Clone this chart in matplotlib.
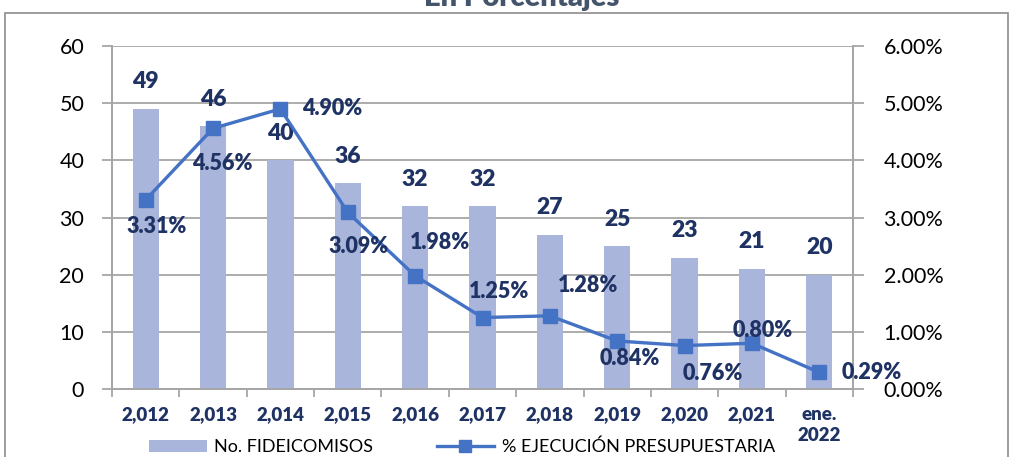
import matplotlib
matplotlib.use("Agg")
import matplotlib.pyplot as plt
from matplotlib.patches import Patch, Rectangle
from matplotlib.lines import Line2D
from matplotlib.ticker import FuncFormatter, FixedLocator

plt.rcParams['font.family'] = ['Lato', 'DejaVu Sans']

categories = ["2,012", "2,013", "2,014", "2,015", "2,016", "2,017", "2,018",
              "2,019", "2,020", "2,021", "ene.\n2022"]
fideicomisos = [49, 46, 40, 36, 32, 32, 27, 25, 23, 21, 20]
ejecucion = [3.31, 4.56, 4.90, 3.09, 1.98, 1.25, 1.28, 0.84, 0.76, 0.80, 0.29]
pct_labels = ["3.31%", "4.56%", "4.90%", "3.09%", "1.98%", "1.25%", "1.28%",
              "0.84%", "0.76%", "0.80%", "0.29%"]
# label offsets in pixels (dx, dy)
pct_offsets = [(11, -27), (9, -35), (52, 0), (11, -34), (25, 33), (17, 26),
               (38, 30), (13, -18), (28, -28), (11, 13), (52, 0)]

BAR = "#A9B5DA"
LINE = "#4472C4"
NAVY = "#1F3264"
GRID = "#A6A6A6"

fig = plt.figure(figsize=(10.11, 4.57), dpi=100)
W, H = 1011, 457
ax = fig.add_axes([112 / W, 1 - 389 / H, (853 - 112) / W, (389 - 46) / H])
ax2 = ax.twinx()

x = list(range(len(categories)))
ax.bar(x, fideicomisos, width=0.39, color=BAR, zorder=2)
ax.set_xlim(-0.5, len(categories) - 0.5)
ax.set_ylim(0, 60)
ax.set_yticks(range(0, 61, 10))
ax.yaxis.grid(True, color=GRID, linewidth=1.3, zorder=0)
ax.set_axisbelow(True)
ax.set_xticks(x)
ax.set_xticklabels(categories, fontsize=13.5, fontweight='heavy', color=NAVY,
                   linespacing=1.3, va='top')
ax.tick_params(axis='x', length=0, pad=12)
ax.xaxis.set_minor_locator(FixedLocator([i - 0.5 for i in range(len(categories) + 1)]))
ax.tick_params(axis='x', which='minor', length=6, color=GRID, width=1.3)
ax.tick_params(axis='y', length=7, color=GRID, width=1.3, labelsize=15.5, pad=13)

ax2.plot(x, ejecucion, color=LINE, linewidth=2.4, marker='s', markersize=10.5, zorder=3)
ax2.set_ylim(0, 6)
ax2.set_yticks(range(0, 7))
ax2.yaxis.set_major_formatter(FuncFormatter(lambda v, p: f"{v:.2f}%"))
ax2.tick_params(axis='y', length=8, color=GRID, width=1.3, labelsize=15.5, pad=14)

for sp in ['left', 'right', 'bottom']:
    ax.spines[sp].set_color(GRID)
    ax.spines[sp].set_linewidth(1.3)
    ax2.spines[sp].set_color(GRID)
    ax2.spines[sp].set_linewidth(1.3)
ax.spines['top'].set_visible(False)
ax2.spines['top'].set_visible(False)

for xi, v in zip(x, fideicomisos):
    ax.annotate(str(v), (xi, v), xytext=(0, 27), textcoords='offset pixels',
                ha='center', va='center', fontsize=16.5, fontweight='heavy',
                color=NAVY, zorder=5)

for xi, v, lab, (dx, dy) in zip(x, ejecucion, pct_labels, pct_offsets):
    ax2.annotate(lab, (xi, v), xytext=(dx, dy), textcoords='offset pixels',
                 ha='center', va='center', fontsize=15.5, fontweight='heavy',
                 color=NAVY, zorder=5)

# outer chart frame
fig.add_artist(Rectangle((5 / W, -0.05), (1008 - 5) / W, (457 - 13) / H + 0.05,
                         transform=fig.transFigure, fill=False,
                         edgecolor='#8C8C8C', linewidth=1.2))

fig.text(0.516, 1 - 6 / H, "En Porcentajes", ha='center', va='baseline',
         fontsize=21, fontweight='heavy', color='#44546A')

handles = [Patch(facecolor=BAR, edgecolor='none'),
           Line2D([0], [0], color=LINE, linewidth=2.4, marker='s', markersize=8)]
fig.legend(handles, ["No. FIDEICOMISOS", "% EJECUCIÓN PRESUPUESTARIA"],
           loc='center', bbox_to_anchor=(462 / W, 1 - 447 / H), ncol=2,
           frameon=False, fontsize=13, handlelength=3.2, columnspacing=3.5,
           handletextpad=0.4)

fig.savefig("out.png", dpi=100)
